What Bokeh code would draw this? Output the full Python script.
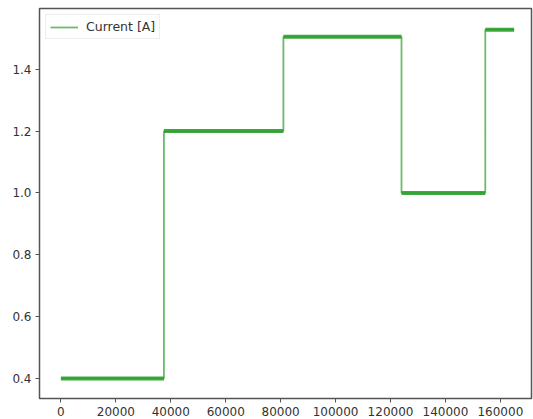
from bokeh.plotting import figure
from bokeh.models import Range1d, FixedTicker, Legend, LegendItem, ColumnDataSource
from bokeh.embed import file_html
from bokeh.resources import INLINE

# Step levels of the current signal
seg_start = [0, 37500, 81000, 124000, 154500]
seg_end = [37500, 81000, 124000, 154500, 165000]
level = [0.40, 1.20, 1.505, 1.00, 1.528]

x_ticks = [0, 20000, 40000, 60000, 80000, 100000, 120000, 140000, 160000]
y_ticks = [0.4, 0.6, 0.8, 1.0, 1.2, 1.4]

GREEN = "#2ca02c"
TXT = "#333333"

p = figure(width=533, height=419, output_backend="svg", toolbar_location=None,
           x_range=Range1d(-7800, 171330), y_range=Range1d(0.335, 1.5966),
           min_border_left=39, min_border_right=2, min_border_top=8, min_border_bottom=21)

# step line (transitions)
xs, ys = [], []
for s, e, l in zip(seg_start, seg_end, level):
    xs += [s, e]
    ys += [l, l]
src = ColumnDataSource(dict(x=xs, y=ys))
r_line = p.line("x", "y", source=src, line_color=GREEN, line_width=1.8, line_alpha=0.7)
# plateaus (thicker due to noise)
p.segment(x0=seg_start, x1=seg_end, y0=level, y1=level, line_color=GREEN, line_width=4, line_alpha=0.9)

p.xgrid.visible = False
p.ygrid.visible = False
p.outline_line_color = "#555555"
p.outline_line_width = 1.5

for ax in (p.xaxis[0], p.yaxis[0]):
    ax.axis_line_color = None
    ax.major_tick_in = 0
    ax.major_tick_out = 4
    ax.major_tick_line_color = "#555555"
    ax.minor_tick_line_color = None
    ax.major_label_text_font = "DejaVu Sans"
    ax.major_label_text_font_size = "12px"
    ax.major_label_text_color = TXT
    ax.major_label_standoff = 4

p.xaxis.ticker = FixedTicker(ticks=x_ticks)
p.yaxis.ticker = FixedTicker(ticks=y_ticks)
p.xaxis.major_label_overrides = {t: str(t) for t in x_ticks}
p.yaxis.major_label_overrides = {t: f"{t:.1f}" for t in y_ticks}

legend = Legend(items=[LegendItem(label="Current [A]", renderers=[r_line])],
                location="top_left")
legend.label_text_font = "DejaVu Sans"
legend.label_text_font_size = "12.5px"
legend.label_text_color = TXT
legend.border_line_color = "#dddddd"
legend.border_line_width = 1
legend.background_fill_alpha = 0.8
legend.glyph_width = 28
legend.glyph_height = 12
legend.label_height = 12
legend.padding = 4
legend.spacing = 0
legend.margin = 6
legend.label_standoff = 8
p.add_layout(legend)

open("out.html", "w").write(file_html(p, INLINE))
